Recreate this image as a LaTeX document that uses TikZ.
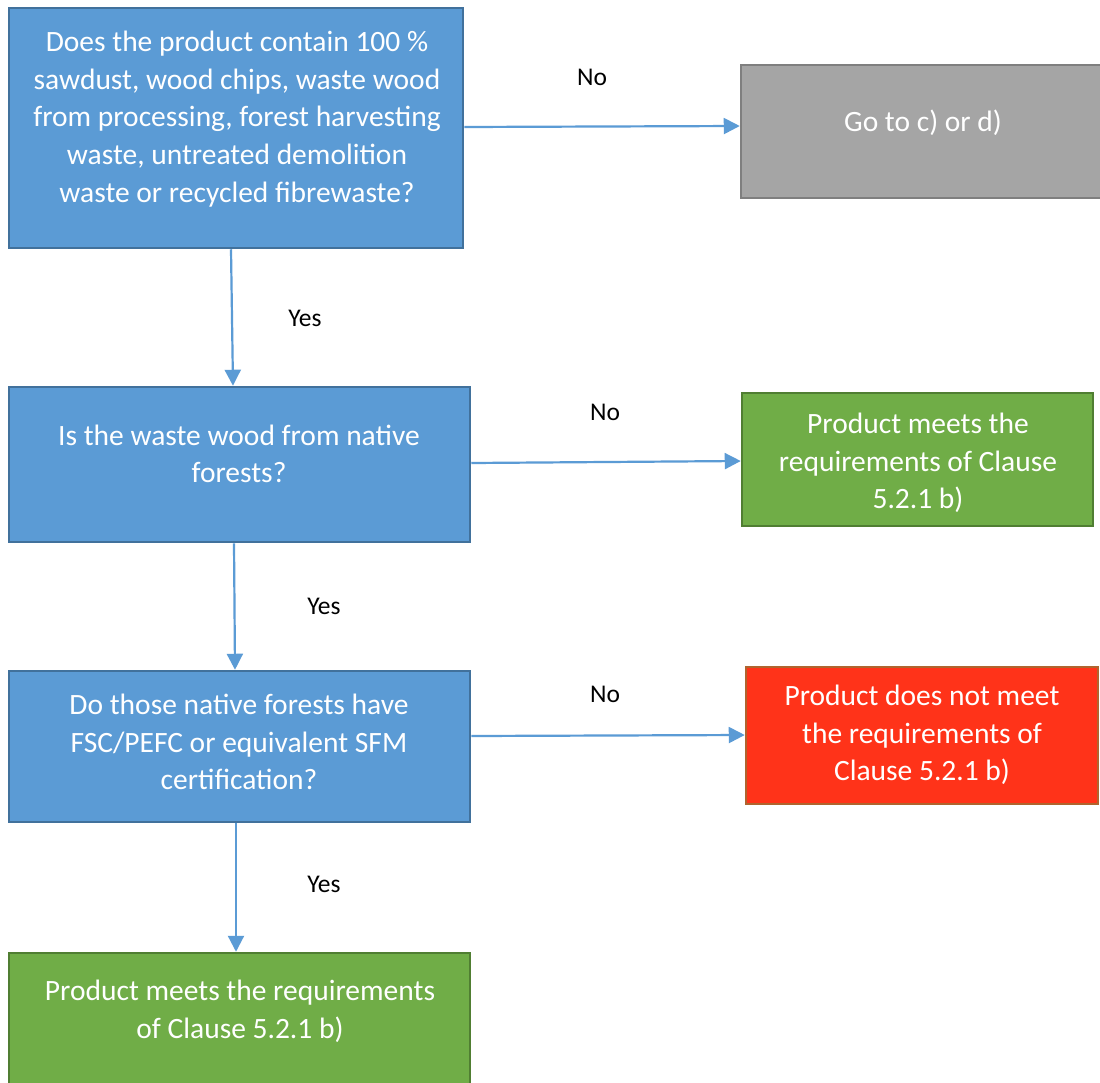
\documentclass[tikz,border=0pt]{standalone}
\usepackage{fontspec}
\setmainfont{Carlito}
\usetikzlibrary{arrows.meta,calc}
\definecolor{bfill}{HTML}{5B9BD5}
\definecolor{bdraw}{HTML}{41719C}
\definecolor{gfill}{HTML}{70AD47}
\definecolor{gdraw}{HTML}{507E32}
\definecolor{grfill}{HTML}{A5A5A5}
\definecolor{grdraw}{HTML}{7F7F7F}
\definecolor{rfill}{HTML}{FF3319}
\definecolor{rdraw}{HTML}{B0642E}
\tikzset{
  box/.style={draw, line width=2.5pt, inner sep=0pt},
  qbox/.style={box, fill=bfill, draw=bdraw},
  gbox/.style={box, fill=gfill, draw=gdraw},
  graybox/.style={box, fill=grfill, draw=grdraw},
  redbox/.style={box, fill=rfill, draw=rdraw},
  btext/.style={text=white, align=center, inner sep=0pt, font=\fontsize{29.5}{37.6}\selectfont},
  lab/.style={text=black, inner sep=0pt, font=\fontsize{25.5}{30}\selectfont},
  conn/.style={draw=bfill, line width=2.2pt, -{Triangle[length=16pt,width=16pt]}}
}
\begin{document}
\begin{tikzpicture}[x=1pt,y=-1pt]
\useasboundingbox (0,0) rectangle (1100,1082);
\fill[white] (0,0) rectangle (1100,1082);
% boxes
\node[qbox, minimum width=454pt, minimum height=240pt] (A) at (236,128) {};
\node[graybox, minimum width=380pt, minimum height=133pt] (G) at (931,131.5) {};
\node[qbox, minimum width=461pt, minimum height=155pt] (B) at (239.5,464.5) {};
\node[gbox, minimum width=351pt, minimum height=133pt] (R1) at (917.5,459.5) {};
\node[qbox, minimum width=461pt, minimum height=151pt] (C) at (239.5,746.5) {};
\node[redbox, minimum width=352pt, minimum height=137pt] (R2) at (922,735.5) {};
\node[gbox, minimum width=461pt, minimum height=150pt] (F) at (239.5,1028) {};
% texts
\node[btext] (tA) at (237,119) {Does the product contain 100 \%\\sawdust, wood chips, waste wood\\from processing, forest harvesting\\waste, untreated demolition\\waste or recycled fibrewaste?};
\node[btext] (tG) at (923,123) {Go to c) or d)};
\node[btext] (tB) at (239,454) {Is the waste wood from native\\forests?};
\node[btext] (tR1) at (918,463) {Product meets the\\requirements of Clause\\5.2.1 b)};
\node[btext] (tC) at (239,742) {Do those native forests have\\FSC/PEFC or equivalent SFM\\certification?};
\node[btext] (tR2) at (922,735) {Product does not meet\\the requirements of\\Clause 5.2.1 b)};
\node[btext] (tF) at (240,1011) {Product meets the requirements\\of Clause 5.2.1 b)};
% connectors
\draw[conn] ([yshift=1pt]A.east) -- ([yshift=5.5pt]G.west);
\draw[conn] ([xshift=-5pt]A.south) -- ([xshift=-6.5pt]B.north);
\draw[conn] ([yshift=1.5pt]B.east) -- ([yshift=-1.5pt]R1.west);
\draw[conn] ([xshift=-5.5pt]B.south) -- ([xshift=-4.5pt]C.north);
\draw[conn] ([yshift=10.5pt]C.east) -- ([yshift=0.5pt]R2.west);
\draw[conn] ([xshift=-3.5pt]C.south) -- ([xshift=-3.5pt]F.north);
% labels
\node[lab] (n1) at (592,77) {No};
\node[lab] (n2) at (605,412) {No};
\node[lab] (n3) at (605,694) {No};
\node[lab] (y1) at (305,318) {Yes};
\node[lab] (y2) at (324,606) {Yes};
\node[lab] (y3) at (324,884) {Yes};
\end{tikzpicture}
\end{document}
